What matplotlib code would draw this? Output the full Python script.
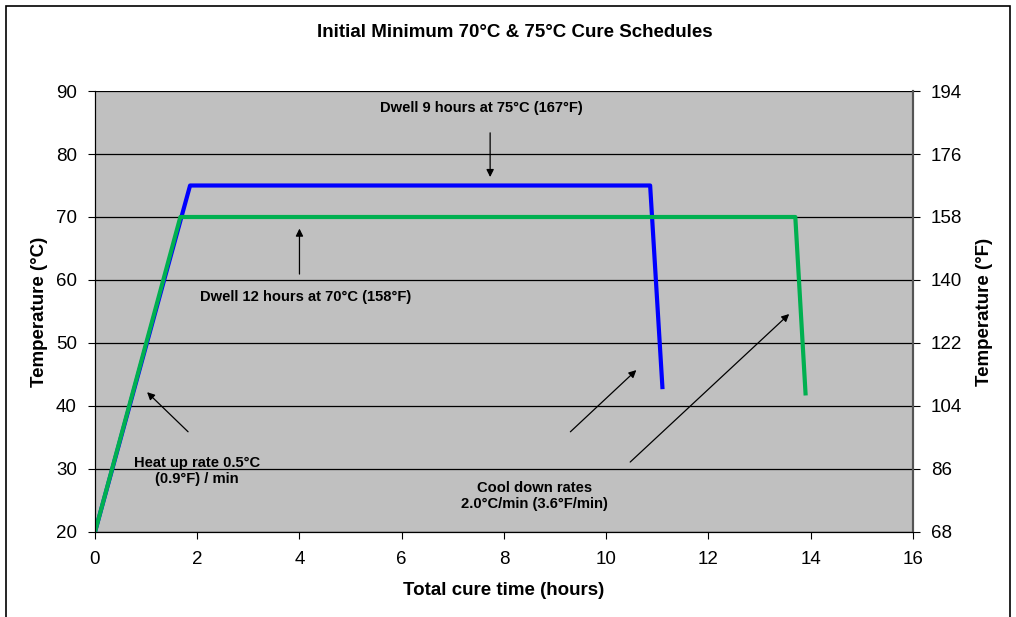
import matplotlib.pyplot as plt
from matplotlib.patches import Rectangle

plt.rcParams['font.family'] = ['Liberation Sans', 'DejaVu Sans']

# cure schedules (hours, deg C)
t75 = [0, 1.86, 10.86, 11.1]
c75 = [20, 75, 75, 43]
t70 = [0, 1.67, 13.7, 13.9]
c70 = [20, 70, 70, 42]

xticks = [0, 2, 4, 6, 8, 10, 12, 14, 16]
yticks_c = [20, 30, 40, 50, 60, 70, 80, 90]
yticks_f = [68, 86, 104, 122, 140, 158, 176, 194]

fig = plt.figure(figsize=(10.16, 6.17), dpi=100)
ax = fig.add_axes([0.0935, 0.1378, 0.805, 0.7147])
ax.set_facecolor("#C0C0C0")

ax.plot(t75, c75, color="#0000FF", lw=3, solid_joinstyle="round", zorder=4)
ax.plot(t70, c70, color="#00B050", lw=3, solid_joinstyle="round", zorder=5)

ax.set_xlim(0, 16)
ax.set_ylim(20, 90)
ax.set_xticks(xticks)
ax.set_yticks(yticks_c)
ax.grid(axis="y", color="black", lw=0.9, zorder=1)
ax.set_axisbelow(True)
ax.tick_params(labelsize=13.5, direction="out", length=5)
ax.tick_params(axis="x", pad=9)
ax.tick_params(axis="y", pad=8)
ax.spines["top"].set_visible(False)
ax.spines["right"].set_color("#555555")
ax.spines["right"].set_linewidth(1.5)

ax.set_xlabel("Total cure time (hours)", fontsize=13.5, fontweight="bold", labelpad=10)
ax.set_ylabel("Temperature (°C)", fontsize=13.5, fontweight="bold", labelpad=6)

ax2 = ax.twinx()
ax2.set_ylim(68, 194)
ax2.set_yticks(yticks_f)
ax2.tick_params(labelsize=13.5, direction="out", length=5, pad=8)
ax2.spines["top"].set_visible(False)
ax2.spines["right"].set_color("#555555")
ax2.spines["right"].set_linewidth(1.5)
ax2.set_ylabel("Temperature (°F)", fontsize=13.5, fontweight="bold", labelpad=10)

fig.text(0.507, 0.947, "Initial Minimum 70°C & 75°C Cure Schedules",
         ha="center", va="center", fontsize=13.5, fontweight="bold")

arw = dict(arrowstyle="-|>", color="black", lw=0.9, mutation_scale=11)
tk = dict(fontsize=10.6, fontweight="bold", ha="center", va="center")

ax.text(7.55, 87.3, "Dwell 9 hours at 75°C (167°F)", **tk)
ax.annotate("", xy=(7.73, 75.9), xytext=(7.73, 83.8), arrowprops=arw)

ax.text(4.13, 57.3, "Dwell 12 hours at 70°C (158°F)", **tk)
ax.annotate("", xy=(4.0, 68.6), xytext=(4.0, 60.5), arrowprops=arw)

ax.text(2.0, 29.7, "Heat up rate 0.5°C\n(0.9°F) / min", linespacing=1.15, **tk)
ax.annotate("", xy=(0.98, 42.5), xytext=(1.86, 35.6), arrowprops=arw)

ax.text(8.6, 25.7, "Cool down rates\n2.0°C/min (3.6°F/min)", linespacing=1.15, **tk)
ax.annotate("", xy=(10.63, 46.0), xytext=(9.26, 35.6), arrowprops=arw)
ax.annotate("", xy=(13.62, 54.9), xytext=(10.43, 30.8), arrowprops=arw)

fig.patches.append(Rectangle((0.006, -0.01), 0.988, 1.0, transform=fig.transFigure,
                             fill=False, edgecolor="black", lw=1.2))

fig.savefig("out.png", dpi=100)
